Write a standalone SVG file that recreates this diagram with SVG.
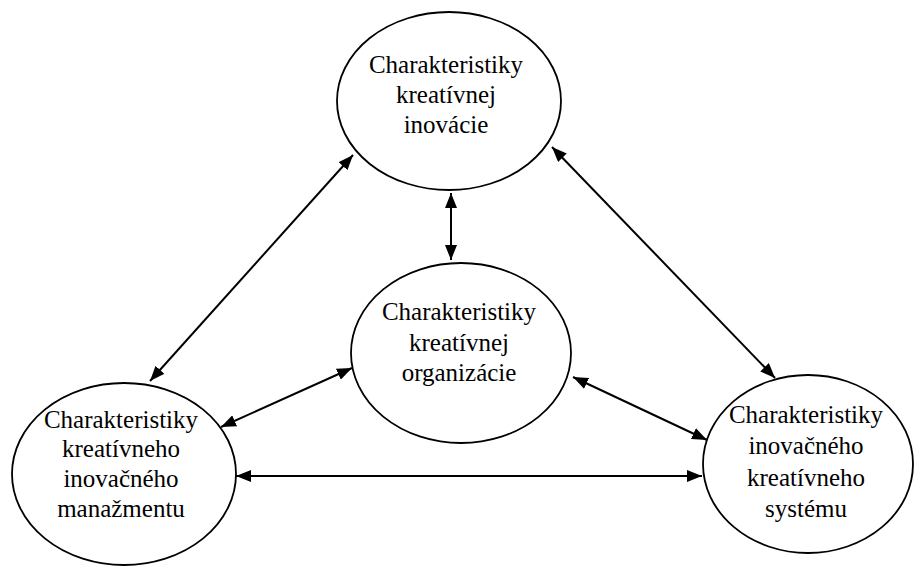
<svg xmlns="http://www.w3.org/2000/svg" width="917" height="569" viewBox="0 0 917 569">
  <style>
    .node ellipse { fill: #ffffff; stroke: #000000; stroke-width: 1.8; }
    .node text { font-size: 25px; fill: #000000; text-anchor: middle; }
    .link { stroke: #000000; stroke-width: 2; fill: none; marker-start: url(#head); marker-end: url(#head); }
  </style>
  <defs>
    <marker id="head" viewBox="0 0 15 12" refX="15" refY="6" markerWidth="15" markerHeight="12" markerUnits="userSpaceOnUse" orient="auto-start-reverse">
      <path d="M0,0 L15,6 L0,12 Z" fill="#000000"/>
    </marker>
  </defs>
  <rect width="917" height="569" fill="#ffffff"/>

  <g id="connectors">
    <line class="link" x1="150" y1="381" x2="353" y2="155"/>
    <line class="link" x1="552" y1="147" x2="775" y2="378"/>
    <line class="link" x1="451" y1="193" x2="451" y2="260"/>
    <line class="link" x1="221" y1="427" x2="352" y2="368"/>
    <line class="link" x1="573" y1="377" x2="707" y2="440"/>
    <line class="link" x1="236" y1="476" x2="702" y2="476"/>
  </g>

  <g font-family="'Liberation Serif', 'Times New Roman', serif">
    <g id="node-inovacia" class="node">
      <ellipse cx="449" cy="101" rx="112" ry="89"/>
      <text x="446" y="73">Charakteristiky</text>
      <text x="446" y="103">kreatívnej</text>
      <text x="446" y="133">inovácie</text>
    </g>

    <g id="node-organizacia" class="node">
      <ellipse cx="461" cy="353" rx="110" ry="90"/>
      <text x="459" y="320">Charakteristiky</text>
      <text x="459" y="351">kreatívnej</text>
      <text x="459" y="381">organizácie</text>
    </g>

    <g id="node-manazment" class="node">
      <ellipse cx="124" cy="474" rx="112" ry="91"/>
      <text x="121" y="428">Charakteristiky</text>
      <text x="121" y="457">kreatívneho</text>
      <text x="121" y="487">inovačného</text>
      <text x="121" y="517">manažmentu</text>
    </g>

    <g id="node-system" class="node">
      <ellipse cx="808" cy="464" rx="105" ry="89"/>
      <text x="806" y="423">Charakteristiky</text>
      <text x="806" y="454">inovačného</text>
      <text x="806" y="486">kreatívneho</text>
      <text x="806" y="517">systému</text>
    </g>
  </g>
</svg>
